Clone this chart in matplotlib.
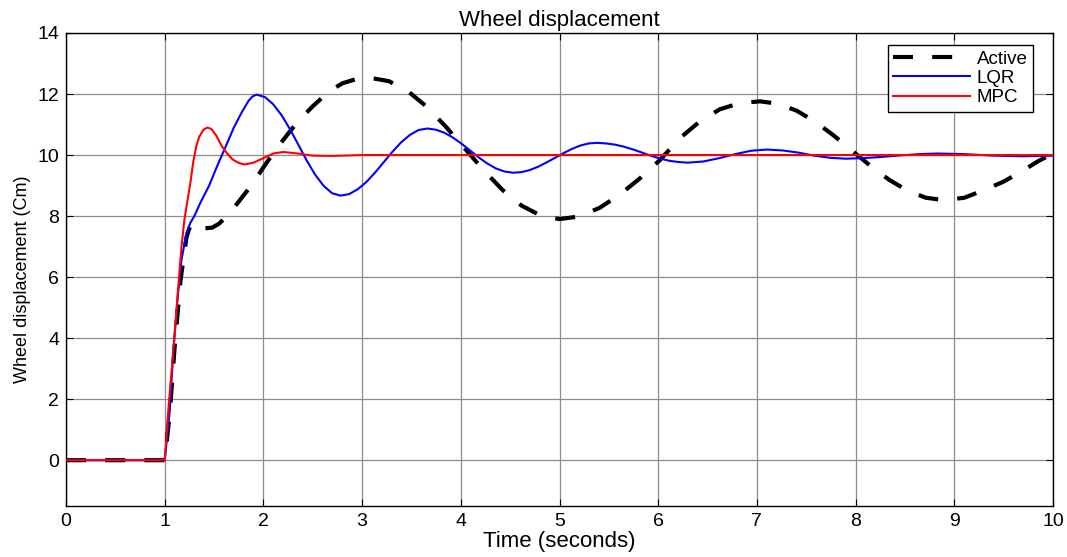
import matplotlib
matplotlib.use("Agg")
import matplotlib.pyplot as plt

plt.rcParams['font.family'] = ['Liberation Sans', 'DejaVu Sans']

# Values
t_active = [0, 1.0, 1.05, 1.10, 1.16, 1.22, 1.26, 1.30, 1.35, 1.41, 1.48, 1.55, 1.66, 1.78,
            1.9, 2.0, 2.13, 2.25, 2.35, 2.5, 2.67, 2.8, 2.95, 3.08, 3.272, 3.464, 3.656,
            3.848, 4.04, 4.232, 4.424, 4.616, 4.808, 5.0, 5.203, 5.406, 5.609, 5.812, 6.015,
            6.218, 6.421, 6.624, 6.827, 7.03, 7.217, 7.404, 7.591, 7.778, 7.965, 8.152, 8.339,
            8.526, 8.713, 8.9, 9.1, 9.3, 9.5, 9.7, 9.85, 10.0]
active = [0, 0, 1.5, 3.7, 5.9, 7.3, 7.7, 7.78, 7.72, 7.6, 7.62, 7.75, 8.1, 8.6,
          9.1, 9.6, 10.2, 10.7, 11.1, 11.6, 12.1, 12.35, 12.5, 12.53, 12.42, 12.09, 11.58,
          10.93, 10.215, 9.5, 8.85, 8.34, 8.02, 7.9, 7.99, 8.27, 8.7, 9.23, 9.83,
          10.55, 11.1, 11.5, 11.7, 11.76, 11.68, 11.45, 11.09, 10.64, 10.14, 9.64, 9.19,
          8.83, 8.6, 8.52, 8.6, 8.85, 9.13, 9.5, 9.8, 10.05]

t_lqr = [0, 1.0, 1.05, 1.09, 1.13, 1.17, 1.22, 1.26, 1.3, 1.36, 1.45, 1.53, 1.62, 1.7, 1.78,
         1.85, 1.89, 1.93, 2.015, 2.10, 2.185, 2.27, 2.355, 2.44, 2.525, 2.61, 2.695, 2.78,
         2.868, 2.956, 3.044, 3.132, 3.22, 3.308, 3.396, 3.484, 3.572, 3.66, 3.747, 3.834,
         3.921, 4.008, 4.095, 4.182, 4.269, 4.356, 4.443, 4.53, 4.615, 4.70, 4.785, 4.87,
         4.955, 5.04, 5.125, 5.21, 5.295, 5.38, 5.472, 5.564, 5.656, 5.748, 5.84, 5.932,
         6.024, 6.116, 6.208, 6.3, 6.46, 6.62, 6.78, 6.94, 7.1, 7.26, 7.42, 7.58, 7.74, 7.9,
         8.086, 8.272, 8.458, 8.644, 8.83, 9.1, 9.4, 9.7, 10.0]
lqr = [0, 0, 1.6, 3.7, 5.3, 6.57, 7.45, 7.78, 8.0, 8.43, 9.0, 9.63, 10.3, 10.9, 11.4,
       11.78, 11.92, 11.98, 11.90, 11.66, 11.30, 10.84, 10.33, 9.81, 9.35, 8.99, 8.75, 8.67,
       8.72, 8.88, 9.12, 9.43, 9.77, 10.11, 10.42, 10.66, 10.82, 10.87, 10.83, 10.73,
       10.57, 10.37, 10.145, 9.92, 9.72, 9.56, 9.46, 9.42, 9.44, 9.51, 9.62, 9.76,
       9.91, 10.06, 10.20, 10.31, 10.38, 10.40, 10.38, 10.34, 10.27, 10.18, 10.075, 9.97,
       9.88, 9.81, 9.77, 9.75, 9.79, 9.90, 10.03, 10.14, 10.18, 10.15, 10.08, 9.98, 9.91, 9.88,
       9.90, 9.94, 9.99, 10.03, 10.05, 10.03, 9.98, 9.96, 9.98]

t_mpc = [0, 1.0, 1.04, 1.09, 1.13, 1.17, 1.2, 1.26, 1.29, 1.32, 1.35, 1.39, 1.43, 1.47, 1.52,
         1.58, 1.64, 1.69, 1.75, 1.81, 1.9, 2.0, 2.1, 2.2, 2.35, 2.5, 2.7, 3.0, 3.5, 10.0]
mpc = [0, 0, 1.8, 3.7, 5.4, 7.0, 7.9, 9.1, 9.8, 10.3, 10.6, 10.82, 10.9, 10.86, 10.65,
       10.28, 10.02, 9.85, 9.74, 9.69, 9.75, 9.9, 10.05, 10.1, 10.05, 9.98, 9.97, 10.0, 10.0, 10.0]

x_ticks = list(range(0, 11))
y_ticks = [0, 2, 4, 6, 8, 10, 12, 14]

fig = plt.figure(figsize=(10.67, 5.57), dpi=100)
ax = fig.add_axes([0.0619, 0.0916, 0.925, 0.8492])

ax.plot(t_active, active, color='black', lw=3, linestyle=(0, (4.8, 4.6)), label='Active', zorder=3)
ax.plot(t_lqr, lqr, color='blue', lw=1.5, label='LQR', zorder=4)
ax.plot(t_mpc, mpc, color='red', lw=1.5, label='MPC', zorder=5)

ax.set_xlim(0, 10)
ax.set_ylim(-1.5, 14)
ax.set_xticks(x_ticks)
ax.set_yticks(y_ticks)
ax.grid(True, color='#8c8c8c', lw=0.9)
ax.tick_params(direction='in', top=True, right=True, labelsize=14, length=5, pad=5)
for s in ax.spines.values():
    s.set_color('black')
    s.set_linewidth(1.0)

ax.set_title('Wheel displacement', fontsize=16, pad=5)
ax.set_xlabel('Time (seconds)', fontsize=16, labelpad=1)
ax.set_ylabel('Wheel displacement (Cm)', fontsize=13, labelpad=4)
ax.yaxis.set_label_coords(-0.036, 0.48)

leg = ax.legend(loc='upper right', bbox_to_anchor=(0.98, 0.975), borderaxespad=0,
                fontsize=13.5, handlelength=4.1, fancybox=False, framealpha=1,
                edgecolor='black', borderpad=0.3, labelspacing=0.12, handletextpad=0.35)
leg.get_frame().set_linewidth(1.0)

fig.savefig('out.png', dpi=100)
